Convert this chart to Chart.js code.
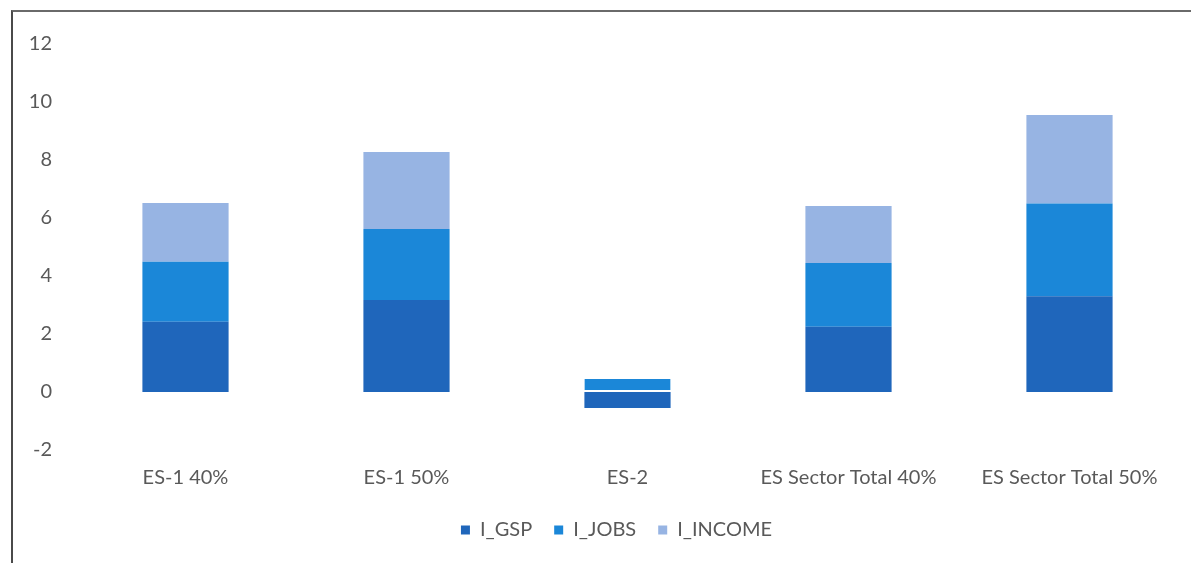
<!DOCTYPE html>
<html>
<head>
<meta charset="utf-8">
<script src="https://cdn.jsdelivr.net/npm/chart.js@4"></script>
<style>
  html, body { margin: 0; padding: 0; background: #fff; }
  #frame {
    position: absolute;
    left: 11px;
    top: 10px;
    width: 1180px;
    height: 553px;
    border-top: 2px solid #6a6a6a;
    border-left: 2px solid #4a4a4a;
  }
  canvas { display: block; }
</style>
</head>
<body>
<div id="frame"><canvas id="impactChart" width="1178" height="551"></canvas></div>
<script>
var categories = ['ES-1 40%', 'ES-1 50%', 'ES-2', 'ES Sector Total 40%', 'ES Sector Total 50%'];
var gsp = [2.42, 3.17, -0.55, 2.25, 3.3];
var jobs = [2.07, 2.45, 0.45, 2.2, 3.2];
var income = [2.03, 2.66, 0, 1.96, 3.05];
var yTicks = [-2, 0, 2, 4, 6, 8, 10, 12];

var textColor = '#595959';
var fontFamily = 'Lato, "Open Sans", sans-serif';

var ctx = document.getElementById('impactChart').getContext('2d');

// a thin white line where a positive segment sits on a negative one
function zeroGap(c) {
  return gsp[c.dataIndex] < 0 ? { top: 0, left: 0, right: 0, bottom: 2 } : 0;
}

// nudge the legend a little to the right
var legendShift = {
  id: 'legendShift',
  afterLayout: function(chart) {
    chart.legend.left += 20;
    chart.legend.right += 20;
  }
};

var chart = new Chart(ctx, {
  type: 'bar',
  data: {
    labels: categories,
    datasets: [
      { label: 'I_GSP', data: gsp, backgroundColor: '#1f66bb' },
      { label: 'I_JOBS', data: jobs, backgroundColor: '#1b87d8',
        borderColor: '#ffffff', borderWidth: zeroGap, borderSkipped: false },
      { label: 'I_INCOME', data: income, backgroundColor: '#97b4e3' }
    ]
  },
  options: {
    responsive: false,
    animation: false,
    layout: {
      padding: { top: 32, right: 11, bottom: 13, left: 0 }
    },
    datasets: {
      bar: { categoryPercentage: 1, barPercentage: 0.39 }
    },
    scales: {
      x: {
        stacked: true,
        grid: { display: false },
        border: { display: false },
        ticks: {
          color: textColor,
          font: { family: fontFamily, size: 20 },
          padding: 8,
          maxRotation: 0
        }
      },
      y: {
        stacked: true,
        min: -2,
        max: 12,
        grid: { display: false },
        border: { display: false },
        afterBuildTicks: function(scale) {
          scale.ticks = yTicks.map(function(v) { return { value: v }; });
        },
        afterFit: function(scale) {
          scale.width = 62;
        },
        ticks: {
          color: textColor,
          font: { family: fontFamily, size: 20 },
          padding: 15
        }
      }
    },
    plugins: {
      legend: {
        position: 'bottom',
        labels: {
          color: textColor,
          font: { family: fontFamily, size: 20 },
          boxWidth: 9,
          boxHeight: 9,
          padding: 22
        }
      },
      tooltip: { enabled: false }
    }
  },
  plugins: [legendShift]
});
</script>
</body>
</html>
